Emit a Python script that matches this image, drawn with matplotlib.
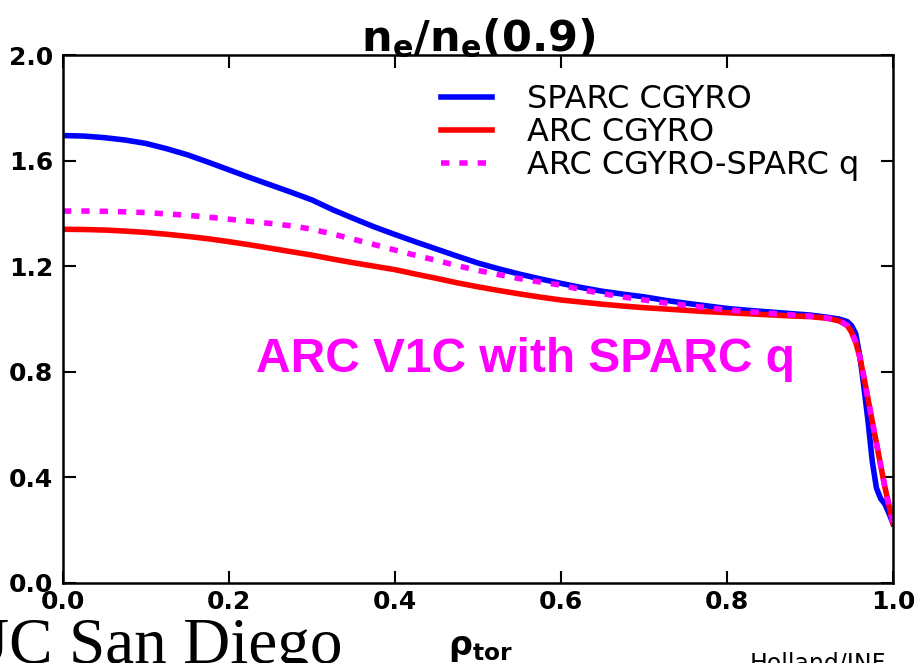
"""
Electron density profiles normalised at rho=0.9,
SPARC vs ARC (CGYRO) and ARC with the SPARC q profile.
"""
import matplotlib
matplotlib.use("Agg")
import matplotlib.pyplot as plt

# ── profile data ───────────────────────────────────────
rho = [0.0, 0.025, 0.05, 0.075, 0.1, 0.125, 0.15, 0.175, 0.2, 0.225, 0.25,
       0.275, 0.3, 0.325, 0.35, 0.375, 0.4, 0.425, 0.45, 0.475, 0.5, 0.525,
       0.55, 0.575, 0.6, 0.625, 0.65, 0.675, 0.7, 0.725, 0.75, 0.775, 0.8,
       0.825, 0.85, 0.875, 0.9, 0.92, 0.935, 0.945, 0.95, 0.955, 0.96,
       0.965, 0.97, 0.975, 0.98, 0.985, 0.99, 0.995, 1.0]

ne_sparc = [1.695, 1.693, 1.687, 1.678, 1.665, 1.645, 1.622, 1.594, 1.565,
            1.536, 1.508, 1.480, 1.451, 1.414, 1.381, 1.349, 1.320, 1.292,
            1.265, 1.238, 1.212, 1.190, 1.170, 1.152, 1.135, 1.119, 1.105,
            1.094, 1.084, 1.071, 1.060, 1.050, 1.040, 1.033, 1.027, 1.021,
            1.015, 1.007, 1.000, 0.990, 0.975, 0.945, 0.860, 0.740, 0.610,
            0.460, 0.360, 0.320, 0.300, 0.265, 0.225]

ne_arc = [1.340, 1.339, 1.337, 1.333, 1.328, 1.321, 1.313, 1.304, 1.293,
          1.281, 1.268, 1.255, 1.242, 1.227, 1.213, 1.200, 1.187, 1.170,
          1.154, 1.137, 1.122, 1.108, 1.095, 1.083, 1.072, 1.064, 1.056,
          1.049, 1.043, 1.038, 1.033, 1.028, 1.024, 1.020, 1.016, 1.012,
          1.009, 1.003, 0.993, 0.975, 0.950, 0.912, 0.855, 0.778, 0.695,
          0.612, 0.530, 0.448, 0.366, 0.295, 0.226]

ne_arc_sparc_q = [1.409, 1.409, 1.408, 1.406, 1.403, 1.398, 1.393, 1.386,
                  1.378, 1.370, 1.362, 1.353, 1.340, 1.322, 1.302, 1.282,
                  1.261, 1.241, 1.222, 1.202, 1.184, 1.168, 1.153, 1.140,
                  1.128, 1.111, 1.096, 1.083, 1.072, 1.061, 1.052, 1.043,
                  1.035, 1.028, 1.022, 1.016, 1.011, 1.004, 0.995, 0.975,
                  0.950, 0.912, 0.855, 0.778, 0.695, 0.612, 0.530, 0.448,
                  0.366, 0.295, 0.226]

labels = ["SPARC CGYRO", "ARC CGYRO", "ARC CGYRO-SPARC q"]
xticks = [0.0, 0.2, 0.4, 0.6, 0.8, 1.0]
yticks = [0.0, 0.4, 0.8, 1.2, 1.6, 2.0]

plt.rcParams["font.family"] = ["DejaVu Sans"]
plt.rcParams["mathtext.default"] = "regular"

fig = plt.figure(figsize=(9.18, 6.63), dpi=100)
ax = fig.add_axes([0.0686, 0.1207, 0.9042, 0.7963])

ax.plot(rho, ne_sparc, color="#0000ff", lw=4, label=labels[0])
ax.plot(rho, ne_arc, color="#ff0000", lw=4, label=labels[1])
ax.plot(rho, ne_arc_sparc_q, color="#ff00ff", lw=4,
        linestyle=(0, (1.5, 1.8)), label=labels[2])

ax.set_xlim(0, 1)
ax.set_ylim(0, 2)
ax.set_xticks(xticks)
ax.set_yticks(yticks)
ax.set_xticklabels([f"{v:.1f}" for v in xticks], fontsize=18, fontweight="bold")
ax.set_yticklabels([f"{v:.1f}" for v in yticks], fontsize=18, fontweight="bold")
ax.tick_params(direction="in", top=True, right=True, length=9, width=1.5)
ax.tick_params(axis="x", pad=5)
ax.tick_params(axis="y", pad=7)
for sp in ax.spines.values():
    sp.set_linewidth(1.8)

ax.set_title("n$_e$/n$_e$(0.9)", fontsize=31, fontweight="bold", pad=3)

leg = ax.legend(loc="upper right", bbox_to_anchor=(0.979, 0.975),
                frameon=False, fontsize=23, borderpad=0, labelspacing=0.06,
                handlelength=1.6, handletextpad=1.1)

ax.text(0.2325, 0.80, "ARC V1C with SPARC q", color="#ff00ff",
        fontsize=34.5, fontweight="bold", family=["Liberation Sans", "DejaVu Sans"],
        ha="left", va="baseline")

# x axis label sits below the ticks, next to the logo text
fig.text(0.523, 0.012, "ρ$_{tor}$", fontsize=24, fontweight="bold",
         ha="center", va="baseline")

fig.text(-0.041, 0.0, "UC San Diego", fontsize=47,
         family=["Liberation Serif", "DejaVu Serif"], ha="left", va="baseline")
fig.text(0.817, 0.017, "Holland/INF", fontsize=17, ha="left", va="top")

fig.savefig("out.png", dpi=100)
